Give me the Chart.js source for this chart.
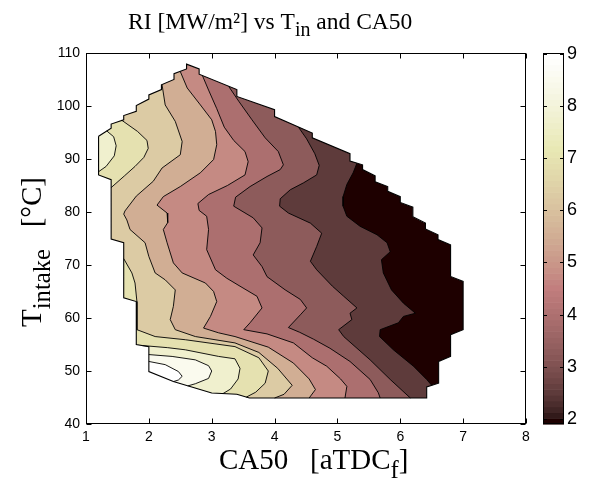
<!DOCTYPE html>
<html><head><meta charset="utf-8">
<script src="https://cdn.jsdelivr.net/npm/chart.js@4.4.0/dist/chart.umd.min.js"></script>
<style>html,body{margin:0;padding:0;background:#fff;}canvas{display:block;}</style>
</head><body>
<canvas id="c" width="592" height="478"></canvas>
<script>
// ---- axis ticks / colour scale ----
const xTicks = [1,2,3,4,5,6,7,8];
const yTicks = [40,50,60,70,80,90,100,110];
const cbTicks = [2,3,4,5,6,7,8,9];
const cbRange = [1.9, 9.02];
// contour levels of RI [MW/m2]
const levels = [2.5,3.25,4.0,4.75,5.5,6.25,7.0,7.75,8.5,9.25];

// measured-data domain (CA50, T_intake), clockwise from top-left
const domain = [[1.20,94.3],[1.40,95.8],[1.40,96.6],[1.60,97.4],[1.60,98.2],[1.80,99.0],[1.80,100.1],[2.00,101.3],[2.00,102.1],[2.20,103.1],[2.20,104.0],[2.40,105.0],[2.40,106.1],[2.60,107.0],[2.60,107.9],[2.80,107.0],[2.80,106.0],[3.40,103.1],[3.40,101.8],[4.00,99.3],[4.00,98.0],[4.60,94.9],[4.60,94.0],[5.20,91.0],[5.20,89.6],[5.40,88.9],[5.40,88.0],[5.60,86.8],[5.60,85.7],[5.80,84.8],[5.80,83.9],[6.00,82.9],[6.00,81.8],[6.20,80.9],[6.20,79.1],[6.40,77.9],[6.40,76.8],[6.60,75.7],[6.60,74.8],[6.80,73.8],
[6.80,67.85],[7.00,66.9],[7.00,57.8],[6.80,56.85],[6.80,52.75],[6.61,51.8],[6.61,47.7],[6.42,47.0],[6.42,44.9],
[3.60,44.9],[3.40,45.6],[3.00,45.85],[2.39,48.0],[2.00,49.9],
[2.00,54.6],[1.80,55.0],[1.80,63.1],[1.60,63.8],[1.60,74.2],[1.40,74.9],[1.40,86.1],[1.20,87.0]];

// iso-lines (CA50, T_intake)
const L1 = [[5.31,89.2],[5.25,87.4],[5.15,85.2],[5.09,82.9],[5.09,81.1],[5.15,79.2],[5.36,77.3],[5.63,75.7],[5.79,74.2],[5.84,72.5],[5.70,71.0],[5.73,68.5],[5.86,65.3],[6.05,62.8],[6.24,60.9],[6.05,60.3],[5.97,59.1],[5.68,57.8],[5.67,56.5],[5.89,54.0],[6.21,50.9],[6.42,48.4],[6.50,47.3]];
const L2 = [[4.38,96.0],[4.51,93.8],[4.64,91.0],[4.71,88.8],[4.67,87.0],[4.46,85.5],[4.25,84.2],[4.09,82.5],[4.08,81.1],[4.22,79.8],[4.57,77.9],[4.75,76.0],[4.67,73.5],[4.57,70.7],[4.67,69.1],[4.92,66.0],[5.10,64.1],[5.31,61.9],[5.20,60.9],[5.23,59.7],[5.02,57.8],[5.10,56.5],[5.52,52.1],[5.84,48.4],[6.16,44.9]];
const L3 = [[3.27,103.7],[3.43,100.9],[3.64,97.4],[3.85,94.0],[4.06,91.4],[4.14,88.9],[4.09,88.0],[3.88,86.7],[3.61,84.8],[3.38,82.8],[3.35,81.1],[3.66,78.9],[3.80,77.0],[3.77,74.2],[3.66,71.9],[3.80,69.7],[3.88,67.8],[4.17,65.3],[4.41,63.5],[4.51,61.9],[4.41,60.6],[4.22,58.2],[4.40,57.3],[4.62,56.0],[4.88,54.3],[5.20,51.8],[5.52,48.4],[5.65,45.9],[5.68,44.9]];
const L4 = [[2.85,105.8],[2.95,103.0],[3.08,99.5],[3.20,96.0],[3.35,93.5],[3.53,91.4],[3.58,89.5],[3.53,87.0],[3.25,85.0],[2.95,83.3],[2.78,81.6],[2.80,80.3],[2.92,79.2],[2.95,76.7],[2.92,72.9],[3.06,69.1],[3.24,67.5],[3.45,66.0],[3.72,64.1],[3.80,61.9],[3.61,59.1],[3.51,57.8],[3.88,57.0],[4.30,55.3],[4.60,52.5],[4.83,50.9],[5.05,48.5],[5.15,47.1],[5.12,44.9]];
const L5 = [[2.50,106.5],[2.61,103.4],[2.82,100.2],[3.00,97.4],[3.06,95.2],[3.08,92.7],[3.03,89.9],[2.82,87.4],[2.50,84.8],[2.23,82.9],[2.13,81.3],[2.29,79.8],[2.30,78.0],[2.23,76.7],[2.29,74.2],[2.39,70.4],[2.53,68.5],[2.90,66.6],[3.03,65.0],[3.08,63.1],[2.98,60.3],[2.87,58.1],[3.11,57.2],[3.37,56.5],[3.90,54.5],[4.30,51.5],[4.55,48.5],[4.65,46.5],[4.55,44.9]];
const L6 = [[2.21,104.0],[2.26,100.2],[2.42,97.1],[2.53,93.3],[2.50,90.8],[2.21,88.3],[2.07,85.8],[1.80,83.0],[1.62,80.2],[1.60,79.6],[1.65,78.5],[1.70,76.7],[1.94,74.2],[2.00,71.6],[2.10,68.5],[2.26,67.2],[2.42,65.3],[2.39,62.2],[2.34,59.7],[2.42,57.8],[2.74,56.5],[3.37,55.3],[3.75,53.5],[4.05,50.5],[4.28,47.3],[4.15,45.6],[4.00,44.9]];
const L7a = [[1.57,97.3],[1.82,95.2],[1.97,93.5],[1.99,92.0],[1.92,90.3],[1.78,88.6],[1.61,86.8],[1.40,84.6]];
const L7b = [[1.60,71.2],[1.73,68.5],[1.78,66.6],[1.81,63.1],[1.81,57.8],[2.10,56.5],[2.58,55.9],[3.37,54.6],[3.75,52.5],[3.90,50.0],[3.85,47.7],[3.70,46.0],[3.55,45.07]];
const L8a = [[1.33,95.3],[1.44,94.2],[1.48,92.5],[1.45,90.6],[1.32,88.6],[1.20,87.6]];
const L8b = [[1.90,54.8],[2.30,54.4],[2.58,54.0],[3.11,52.75],[3.37,52.3],[3.45,50.5],[3.42,48.5],[3.30,46.6],[3.18,45.74]];
const L9 = [[2.00,53.1],[2.37,52.75],[2.74,52.1],[2.95,51.0],[3.00,50.0],[2.95,48.6],[2.74,47.6],[2.62,47.19]];
const L10 = [[2.00,51.8],[2.26,51.2],[2.47,49.9],[2.53,49.0],[2.47,48.3],[2.39,48.0]];

const contours = [
  {level:levels[0], pts:L1, start:'top', end:'bottom'},
  {level:levels[1], pts:L2, start:'top', end:'bottom'},
  {level:levels[2], pts:L3, start:'top', end:'bottom'},
  {level:levels[3], pts:L4, start:'top', end:'bottom'},
  {level:levels[4], pts:L5, start:'top', end:'bottom'},
  {level:levels[5], pts:L6, start:'top', end:'bottom'},
  {level:levels[6], pts:L7a, start:'top', end:'left'},
  {level:levels[6], pts:L7b, start:'left', end:'bottom'},
  {level:levels[7], pts:L8a, start:'top', end:'left'},
  {level:levels[7], pts:L8b, start:'left', end:'bottom'},
  {level:levels[8], pts:L9, start:'left', end:'bottom'},
  {level:levels[9], pts:L10, start:'left', end:'bottom'}
];

// ---- MATLAB pink(64) colormap ----
function pinkRGB(i){
  const m=64,n=24,gr=(i-1)/(m-1);
  const r=i<=n?i/n:1;
  const g=i<=n?0:(i<=2*n?(i-n)/n:1);
  const b=i<=2*n?0:(i-2*n)/(m-2*n);
  return [r,g,b].map(h=>Math.round(255*Math.sqrt((2*gr+h)/3)));
}
function colorFor(v){
  const t=(v-cbRange[0])/(cbRange[1]-cbRange[0]);
  let i=Math.floor(t*64)+1; i=Math.max(1,Math.min(64,i));
  return 'rgb('+pinkRGB(i).join(',')+')';
}
const XY = a => a.map(p=>({x:p[0],y:p[1]}));
function regionPoly(c){
  const p=c.pts,a=p[0],z=p[p.length-1],out=[];
  out.push(c.start==='top'?[a[0],130]:[-1,a[1]]);
  out.push(...p);
  if(c.end==='bottom'){out.push([z[0],20]);out.push([-1,20]);} else out.push([-1,z[1]]);
  if(c.start==='top') out.push([-1,130]);
  return out;
}
const base = {showLine:true,pointRadius:0,pointHoverRadius:0,xAxisID:'x',yAxisID:'y',tension:0};
const datasets = [];
datasets.push(Object.assign({},base,{data:XY(domain.concat([domain[0]])),fill:'shape',backgroundColor:colorFor(cbRange[0]),borderWidth:0,borderColor:'rgba(0,0,0,0)',order:500}));
contours.forEach((c,i)=>datasets.push(Object.assign({},base,{data:XY(regionPoly(c)),fill:'shape',backgroundColor:colorFor(c.level),borderWidth:0,borderColor:'rgba(0,0,0,0)',order:400-i})));
const maskPts = [[-1,0],[10,0],[10,150],[-1,150],[-1,0]].concat(domain,[domain[0]],[[-1,0]]);
datasets.push(Object.assign({},base,{data:XY(maskPts),fill:'shape',backgroundColor:'#ffffff',borderWidth:0,borderColor:'rgba(0,0,0,0)',order:100}));
contours.forEach((c,i)=>datasets.push(Object.assign({},base,{data:XY(c.pts),fill:false,borderColor:'#000',borderWidth:0.9,order:50-i*0.1})));
datasets.push(Object.assign({},base,{data:XY(domain.concat([domain[0]])),fill:false,borderColor:'#000',borderWidth:1.1,order:10}));

const bg = {id:'bg',beforeDraw(ch){const c=ch.ctx;c.save();c.fillStyle='#fff';c.fillRect(0,0,ch.width,ch.height);c.restore();}};
const deco = {id:'deco',afterDraw(ch){
  const c=ch.ctx,a=ch.chartArea,sx=ch.scales.x,sy=ch.scales.y,cb=ch.scales.cb;
  c.save();
  c.strokeStyle='#000';c.lineWidth=1;
  const L=Math.round(a.left)+0.5,R=Math.round(a.right)-0.5,T=Math.round(a.top)+0.5,B=Math.round(a.bottom)-0.5;
  c.strokeRect(L,T,R-L,B-T);
  c.beginPath();
  xTicks.forEach(v=>{const px=Math.round(sx.getPixelForValue(v))+0.5;c.moveTo(px,B);c.lineTo(px,B-5);c.moveTo(px,T);c.lineTo(px,T+5);});
  yTicks.forEach(v=>{const py=Math.round(sy.getPixelForValue(v))+0.5;c.moveTo(L,py);c.lineTo(L+5,py);c.moveTo(R,py);c.lineTo(R-5,py);});
  c.stroke();
  // colorbar
  const cx0=543,cx1=564;
  for(let i=1;i<=64;i++){
    const v0=cbRange[0]+(i-1)/64*(cbRange[1]-cbRange[0]);
    const v1=cbRange[0]+i/64*(cbRange[1]-cbRange[0]);
    const p0=cb.getPixelForValue(v0),p1=cb.getPixelForValue(v1);
    c.fillStyle='rgb('+pinkRGB(i).join(',')+')';
    c.fillRect(cx0,p1,cx1-cx0,p0-p1+0.6);
  }
  const cT=Math.round(cb.getPixelForValue(cbRange[1]))+0.5,cB=Math.round(cb.getPixelForValue(cbRange[0]))-0.5;
  c.strokeRect(cx0+0.5,cT,cx1-cx0-1,cB-cT);
  c.beginPath();
  cbTicks.forEach(v=>{const py=Math.round(cb.getPixelForValue(v))+0.5;c.moveTo(cx0,py);c.lineTo(cx0+4,py);c.moveTo(cx1,py);c.lineTo(cx1-4,py);});
  c.stroke();
  // titles (with sub-scripts)
  c.fillStyle='#000';c.textBaseline='alphabetic';c.textAlign='left';
  const SUB=0.85;
  function rich(parts,fs){let w=0;parts.forEach(p=>{c.font=(p[1]?fs*SUB:fs)+'px "Liberation Serif"';w+=c.measureText(p[0]).width;});return w;}
  function drawRich(parts,fs,x,y){
    parts.forEach(p=>{c.font=(p[1]?fs*SUB:fs)+'px "Liberation Serif"';c.fillText(p[0],x,y+(p[1]?fs*0.3:0));x+=c.measureText(p[0]).width;});}
  const tParts=[['RI [MW/m²] vs T',0],['in',1],[' and CA50',0]];
  drawRich(tParts,23.5,128,29);
  const xParts=[['CA50   [aTDC',0],['f',1],[']',0]];
  drawRich(xParts,29,219,469);
  const yParts=[['T',0],['intake',1],['   [°C]',0]];
  const yfs=29; const yw=rich(yParts,yfs);
  c.translate(41,252);c.rotate(-Math.PI/2);drawRich(yParts,yfs,-yw/2,0);
  c.restore();
}};

const tickFont={family:'"Liberation Sans", Arial, sans-serif',size:14};
new Chart(document.getElementById('c'),{
  type:'scatter',
  data:{datasets},
  options:{
    responsive:false,animation:false,devicePixelRatio:1,
    layout:{padding:{top:53,bottom:0,left:0,right:0}},
    plugins:{legend:{display:false},tooltip:{enabled:false},title:{display:false}},
    events:[],
    scales:{
      x:{type:'linear',min:1,max:8,position:'bottom',
         afterBuildTicks:s=>{s.ticks=xTicks.map(v=>({value:v}));},
         afterFit:s=>{s.height=54;},
         grid:{display:false,drawTicks:false},border:{display:false},
         ticks:{font:tickFont,color:'#000',padding:5,maxRotation:0,autoSkip:false}},
      y:{type:'linear',min:40,max:110,position:'left',
         afterBuildTicks:s=>{s.ticks=yTicks.map(v=>({value:v}));},
         afterFit:s=>{s.width=86;},
         grid:{display:false,drawTicks:false},border:{display:false},
         ticks:{font:tickFont,color:'#000',padding:6,autoSkip:false}},
      cb:{type:'linear',min:cbRange[0],max:cbRange[1],position:'right',
         afterBuildTicks:s=>{s.ticks=cbTicks.map(v=>({value:v}));},
         afterFit:s=>{s.width=66;},
         grid:{display:false,drawTicks:false},border:{display:false},
         ticks:{font:{family:'"Liberation Sans", Arial, sans-serif',size:18},color:'#000',padding:41,autoSkip:false}}
    }
  },
  plugins:[bg,deco]
});
</script>
</body></html>
